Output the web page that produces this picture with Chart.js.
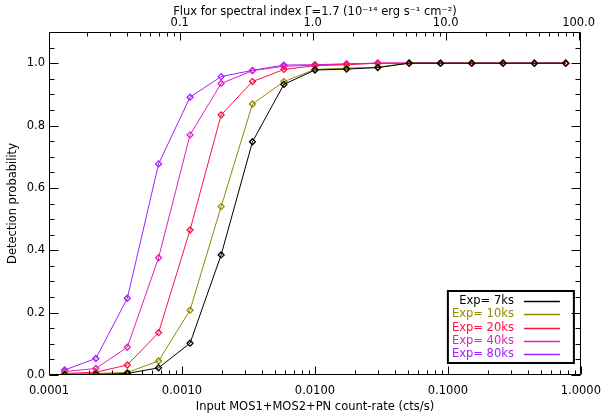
<!DOCTYPE html>
<html><head><meta charset="utf-8">
<script src="https://cdn.jsdelivr.net/npm/chart.js@4/dist/chart.umd.min.js"></script>
<style>html,body{margin:0;padding:0;background:#fff}#wrap{width:610px;height:415px;position:relative}</style>
</head><body><div id="wrap"><canvas id="c"></canvas></div>
<script>
// ---- data ----
const countRates = [0.000131,0.000225,0.000388,0.000667,0.00115,0.00197,0.00339,0.00584,0.0100,0.0173,0.0297,0.0511,0.0879,0.151,0.260,0.447,0.769];
const exposureLabels = ['Exp= 7ks','Exp= 10ks','Exp= 20ks','Exp= 40ks','Exp= 80ks'];
const prob7ks  = [0.001,0.002,0.005,0.023,0.102,0.385,0.748,0.932,0.978,0.981,0.986,1,1,1,1,1,1];
const prob10ks = [0.005,0.005,0.008,0.045,0.208,0.540,0.869,0.941,0.980,0.984,0.987,1,1,1,1,1,1];
const prob20ks = [0.005,0.009,0.032,0.136,0.465,0.834,0.941,0.980,0.992,0.995,1,1,1,1,1,1,1];
const prob40ks = [0.011,0.021,0.089,0.376,0.770,0.935,0.976,0.990,0.994,0.997,1,1,1,1,1,1,1];
const prob80ks = [0.016,0.053,0.246,0.677,0.891,0.957,0.977,0.994,0.995,0.998,1,1,1,1,1,1,1];
const seriesColors = ['#000000','#948800','#ff1044','#e020c0','#a020ff'];
const xTickValues = [0.0001,0.001,0.01,0.1,1];
const xTickLabels = ['0.0001','0.0010','0.0100','0.1000','1.0000'];
const fluxTickValues = [0.1,1,10,100];
const fluxTickLabels = ['0.1','1.0','10.0','100.0'];
const fluxPerCountRate = 104;
const yTickValues = [0,0.2,0.4,0.6,0.8,1.0];
const yTickLabels = ['0.0','0.2','0.4','0.6','0.8','1.0'];
const xTitle = 'Input MOS1+MOS2+PN count-rate (cts/s)';
const yTitle = 'Detection probability';
const topTitle = 'Flux for spectral index \u0393=1.7 (10\u207B\u00B9\u2074 erg s\u207B\u00B9 cm\u207B\u00B2)';

const FONT = {family:'DejaVu Sans', size:11.5};
const allSeries = [prob7ks, prob10ks, prob20ks, prob40ks, prob80ks];

const datasets = allSeries.map((s,i)=>({
  label: exposureLabels[i],
  data: countRates.map((x,j)=>({x:x, y:s[j]})),
  borderColor: seriesColors[i],
  backgroundColor: 'rgba(0,0,0,0)',
  borderWidth: 1,
  pointStyle: 'rectRot',
  pointRadius: 3,
  pointBorderWidth: 1.3,
  pointBorderColor: seriesColors[i],
  pointBackgroundColor: 'rgba(255,255,255,0)',
  tension: 0
}));

function logMinor(min, max){
  const out=[];
  for(let d=Math.floor(Math.log10(min))-1; d<=Math.ceil(Math.log10(max)); d++){
    for(let m=1;m<=9;m++){
      const v=m*Math.pow(10,d);
      if(v>=min*0.9999 && v<=max*1.0001) out.push({v:v, major:m===1});
    }
  }
  return out;
}

const frameTicks = {
  id:'frameTicks',
  afterDraw(chart){
    const {ctx, chartArea:a, scales} = chart;
    ctx.save();
    ctx.strokeStyle='#000'; ctx.lineWidth=1;
    const L=Math.round(a.left)+0.5, R=Math.round(a.right)-0.5, T=Math.round(a.top)+0.5, B=Math.round(a.bottom)-0.5;
    ctx.beginPath();
    ctx.rect(L,T,R-L,B-T);
    const xs=scales.x;
    logMinor(xs.min, xs.max).forEach(t=>{
      const px=Math.round(xs.getPixelForValue(t.v))+0.5;
      const len=t.major?8:4;
      ctx.moveTo(px,B); ctx.lineTo(px,B-len);
    });
    const xt=scales.xTop;
    logMinor(xt.min, xt.max).forEach(t=>{
      const px=Math.round(xt.getPixelForValue(t.v))+0.5;
      const len=t.major?8:4;
      ctx.moveTo(px,T); ctx.lineTo(px,T+len);
    });
    const ys=scales.y;
    for(let k=0;k<=22;k++){
      const v=k*0.05;
      const py=Math.round(ys.getPixelForValue(v))+0.5;
      const len=(k%4===0)?9:5;
      ctx.moveTo(L,py); ctx.lineTo(L+len,py);
      ctx.moveTo(R,py); ctx.lineTo(R-len,py);
    }
    ctx.stroke();
    ctx.restore();
  }
};

const legendBox = {
  id:'legendBox',
  afterDatasetsDraw(chart){
    const {ctx, chartArea:a} = chart;
    const w=126, h=72;
    const x0=a.right-7-w, y0=a.bottom-12-h;
    ctx.save();
    ctx.fillStyle='#fff';
    ctx.fillRect(x0,y0,w,h);
    ctx.strokeStyle='#000'; ctx.lineWidth=2;
    ctx.strokeRect(x0,y0,w,h);
    ctx.font = FONT.size+'px "'+FONT.family+'"';
    ctx.textAlign='right'; ctx.textBaseline='middle';
    chart.data.datasets.forEach((ds,i)=>{
      const yy=y0+10+i*13.3;
      ctx.fillStyle=ds.borderColor;
      ctx.fillText(ds.label, x0+66, yy);
      ctx.strokeStyle=ds.borderColor; ctx.lineWidth=1.3;
      ctx.beginPath(); ctx.moveTo(x0+76,Math.round(yy)+0.5); ctx.lineTo(x0+112,Math.round(yy)+0.5); ctx.stroke();
    });
    ctx.restore();
  }
};

new Chart(document.getElementById('c'), {
  type:'line',
  data:{datasets},
  options:{
    responsive:true, maintainAspectRatio:false, animation:false,
    layout:{padding:{left:0,right:20,top:0,bottom:0}},
    plugins:{legend:{display:false}, tooltip:{enabled:false}},
    scales:{
      x:{
        type:'logarithmic', position:'bottom', min:0.0001, max:1,
        afterBuildTicks:s=>{s.ticks=xTickValues.map(v=>({value:v}));},
        afterFit:s=>{s.height=40;},
        ticks:{callback:(v,i)=>xTickLabels[i], autoSkip:false, maxRotation:0, padding:9, color:'#000', font:FONT},
        grid:{display:false, drawTicks:false}, border:{display:false},
        title:{display:true, text:xTitle, color:'#000', font:FONT, padding:{top:0,bottom:1}}
      },
      xTop:{
        type:'logarithmic', position:'top', min:0.0001*fluxPerCountRate, max:1*fluxPerCountRate,
        afterBuildTicks:s=>{s.ticks=fluxTickValues.map(v=>({value:v}));},
        afterFit:s=>{s.height=32;},
        ticks:{callback:(v,i)=>fluxTickLabels[i], autoSkip:false, maxRotation:0, padding:2, color:'#000', font:FONT},
        grid:{display:false, drawTicks:false}, border:{display:false},
        title:{display:true, text:topTitle, color:'#000', font:FONT, padding:{top:5,bottom:0}}
      },
      y:{
        type:'linear', position:'left', min:0, max:1.1,
        afterBuildTicks:s=>{s.ticks=yTickValues.map(v=>({value:v}));},
        afterFit:s=>{s.width=49;},
        ticks:{callback:(v,i)=>yTickLabels[i], padding:4, color:'#000', font:FONT},
        grid:{display:false, drawTicks:false}, border:{display:false},
        title:{display:true, text:yTitle, color:'#000', font:FONT, padding:{top:6,bottom:0}}
      }
    }
  },
  plugins:[frameTicks, legendBox]
});
</script>
</body></html>
